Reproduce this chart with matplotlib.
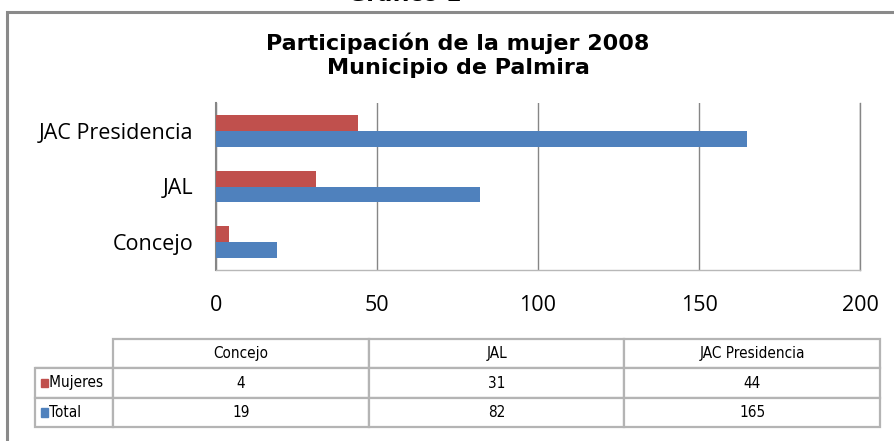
import matplotlib.pyplot as plt
import matplotlib.patches as patches

categorias = ['Concejo', 'JAL', 'JAC Presidencia']
mujeres = [4, 31, 44]
total = [19, 82, 165]
series = ['Mujeres', 'Total']
xticks = [0, 50, 100, 150, 200]

rojo = '#C0504D'
azul = '#4F81BD'

W, H = 895, 441
fig = plt.figure(figsize=(W / 100, H / 100), dpi=100)
fig.patch.set_facecolor('white')


def fx(px):
    return px / W


def fy(py):
    return 1 - py / H


# marco exterior
frame = patches.Rectangle((fx(7), fy(470)), fx(930), fy(12) - fy(470),
                          transform=fig.transFigure, fill=False,
                          edgecolor='#8a8a8a', lw=2.2, clip_on=False)
fig.patches.append(frame)

titulo = dict(fontsize=16, fontweight='bold', family='DejaVu Sans')
fig.text(fx(405), fy(1), 'Gráfico 1', ha='center', va='baseline', **titulo)
fig.text(fx(458), fy(43), 'Participación de la mujer 2008', ha='center', va='center', **titulo)
fig.text(fx(458), fy(68), 'Municipio de Palmira', ha='center', va='center', **titulo)

# barras
ax = fig.add_axes([fx(216), fy(270), fx(860) - fx(216), fy(103) - fy(270)])
h = 0.287
ypos = list(range(len(categorias)))
ax.barh([y + h / 2 for y in ypos], mujeres, height=h, color=rojo, zorder=3)
ax.barh([y - h / 2 for y in ypos], total, height=h, color=azul, zorder=3)
ax.set_xlim(0, 200)
ax.set_ylim(-0.5, 2.5)
ax.set_xticks(xticks)
ax.set_xticklabels([str(t) for t in xticks])
ax.set_yticks(ypos)
ax.set_yticklabels(categorias)
ax.tick_params(length=0, labelsize=15.5, colors='black')
ax.tick_params(axis='x', pad=18)
ax.tick_params(axis='y', pad=16.5)
for lab in ax.get_xticklabels() + ax.get_yticklabels():
    lab.set_family('Open Sans')
ax.grid(axis='x', color='#868686', lw=1, zorder=0)
ax.set_axisbelow(True)
ax.spines['top'].set_visible(False)
ax.spines['right'].set_color('#868686')
ax.spines['right'].set_linewidth(1)
ax.spines['left'].set_color('#868686')
ax.spines['left'].set_linewidth(1.5)
ax.spines['bottom'].set_color('#b8b8b8')
ax.spines['bottom'].set_linewidth(1)

# tabla de datos
tax = fig.add_axes([fx(35), fy(427), fx(880) - fx(35), fy(339) - fy(427)])
tax.set_axis_off()
filas = [['   ' + series[0]] + [str(v) for v in mujeres],
         ['   ' + series[1]] + [str(v) for v in total]]
tabla = tax.table(cellText=filas,
                  colLabels=[''] + categorias,
                  colWidths=[78 / 845] + [255 / 845] * 3,
                  cellLoc='center', loc='center',
                  bbox=[0, 0, 1, 1])
tabla.auto_set_font_size(False)
for (r, c), cell in tabla.get_celld().items():
    cell.set_edgecolor('#b4b4b4')
    cell.set_linewidth(1.6)
    t = cell.get_text()
    t.set_fontsize(11)
    t.set_family(['Liberation Sans Narrow', 'DejaVu Sans'])
    t.set_fontstretch('condensed')
    if c == 0:
        t.set_horizontalalignment('left')
        cell.PAD = 0.01
tabla[0, 0].visible_edges = 'B'

# cuadritos de la leyenda
row_h = 1 / 3
for i, color in enumerate([rojo, azul]):
    yc = 1 - row_h * (i + 1.5)
    sq = patches.Rectangle((6 / 845, yc - 0.05), 7 / 845, 0.1,
                           transform=tax.transAxes, color=color, clip_on=False, zorder=5)
    tax.add_patch(sq)

fig.savefig('out.png', dpi=100)
